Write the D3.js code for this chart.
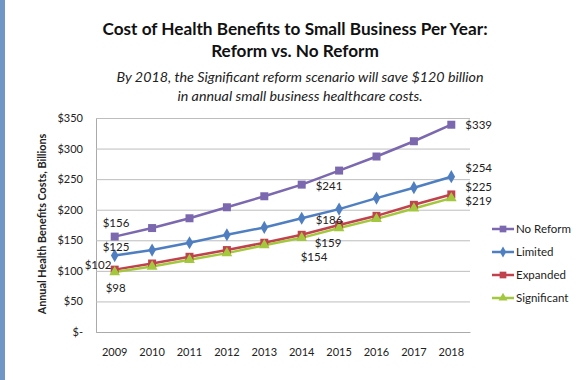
<!DOCTYPE html>
<html><head><meta charset="utf-8">
<script src="https://cdn.jsdelivr.net/npm/d3@7"></script>
<style>body{margin:0;background:#fff}svg{display:block}text{font-family:Lato,"Open Sans",sans-serif}</style>
</head><body>
<svg id="c" width="586" height="380"></svg>
<script>
const years = ["2009","2010","2011","2012","2013","2014","2015","2016","2017","2018"];
const seriesNames = ["No Reform","Limited","Expanded","Significant"];
const noReform = [156,170,186,204,222,241,264,287,312,339];
const limited = [125,134,146,159,171,186,201,219,236,254];
const expanded = [102,112,123,134,146,159,175,190,208,225];
const significant = [98,107,118,129,142,154,170,185,202,219];
const yTicks = [0,50,100,150,200,250,300,350];
const labelIdx = [0,5,9];

const colors = ["#7b68ae","#4f7fc0","#c0424d","#a3c83e"];
const shapes = [d3.symbolSquare,d3.symbolDiamond,d3.symbolSquare,d3.symbolTriangle];
const sizes = [64,50,64,50];
const data = [noReform,limited,expanded,significant];

const svg = d3.select("#c");
svg.append("rect").attr("x",0).attr("y",0).attr("width",5).attr("height",380).attr("fill","#6f97c6");

const L=96,R=470,T=118,B=332;
const x = d3.scaleBand().domain(years).range([L,R]);
const y = d3.scaleLinear().domain([0,350]).range([B,T]);

// title
svg.append("text").attr("x",295).attr("y",35).attr("text-anchor","middle").attr("font-size",17.2).attr("font-weight","bold").attr("fill","#111").text("Cost of Health Benefits to Small Business Per Year:");
svg.append("text").attr("x",295).attr("y",57).attr("text-anchor","middle").attr("font-size",17.2).attr("font-weight","bold").attr("fill","#111").text("Reform vs. No Reform");
svg.append("text").attr("x",300).attr("y",82).attr("text-anchor","middle").attr("font-size",14.3).attr("font-style","italic").attr("fill","#222").text("By 2018, the Significant reform scenario will save $120 billion");
svg.append("text").attr("x",300).attr("y",101).attr("text-anchor","middle").attr("font-size",14.3).attr("font-style","italic").attr("fill","#222").text("in annual small business healthcare costs.");

// grid
const yAxis = d3.axisLeft(y).tickValues(yTicks).tickSize(-(R-L)).tickPadding(13)
  .tickFormat(d=> d===0 ? "$-" : "$"+d);
const ga = svg.append("g").attr("transform",`translate(${L},0)`).call(yAxis);
ga.select(".domain").attr("stroke","#aaa");
ga.selectAll(".tick line").attr("stroke","#bdbdbd");
ga.selectAll(".tick text").attr("font-size",11).attr("fill","#222").attr("font-family","Lato,sans-serif");

const xAxis = d3.axisBottom(x).tickSize(0).tickPadding(16);
const gx = svg.append("g").attr("transform",`translate(0,${B})`).call(xAxis);
gx.select(".domain").attr("stroke","#aaa");
gx.selectAll(".tick text").attr("font-size",11).attr("fill","#222").attr("font-family","Lato,sans-serif");

svg.append("text").attr("transform","translate(46,224) rotate(-90)").attr("text-anchor","middle").attr("font-size",10.8).attr("font-weight","bold").attr("fill","#222").text("Annual Health Benefits Costs, Billions");

const line = d3.line().x((d,i)=>x(years[i])+x.bandwidth()/2).y(d=>y(d));
data.forEach((s,k)=>{
  svg.append("path").datum(s).attr("d",line).attr("fill","none").attr("stroke",colors[k]).attr("stroke-width",2.5);
});
data.forEach((s,k)=>{
  svg.append("g").selectAll("path").data(s).join("path")
    .attr("d",d3.symbol().type(shapes[k]).size(sizes[k]))
    .attr("transform",(d,i)=>`translate(${x(years[i])+x.bandwidth()/2},${y(d)})`)
    .attr("fill",colors[k]);
});

// data labels
const offs = [
  [[-12,-14],[14,1],[14,0]],
  [[-12,-9],[14,2],[14,-9]],
  [[-30,-5],[13,8],[14,-7.5]],
  [[-9,16],[-1,19],[14,2.5]]
];
data.forEach((s,k)=>{
  labelIdx.forEach((i,j)=>{
    const o=offs[k][j];
    svg.append("text").attr("x",x(years[i])+x.bandwidth()/2+o[0]).attr("y",y(s[i])+o[1]+4)
      .attr("font-size",11.5).attr("fill","#222").text("$"+s[i]);
  });
});

// legend
const lg = svg.append("g");
seriesNames.forEach((n,k)=>{
  const yy = 229 + k*23;
  lg.append("line").attr("x1",492).attr("x2",514).attr("y1",yy).attr("y2",yy).attr("stroke",colors[k]).attr("stroke-width",2.5);
  lg.append("path").attr("d",d3.symbol().type(shapes[k]).size(sizes[k]*0.7)).attr("transform",`translate(503,${yy})`).attr("fill",colors[k]);
  lg.append("text").attr("x",516).attr("y",yy+4).attr("font-size",11.5).attr("fill","#222").text(n);
});
</script>
</body></html>
